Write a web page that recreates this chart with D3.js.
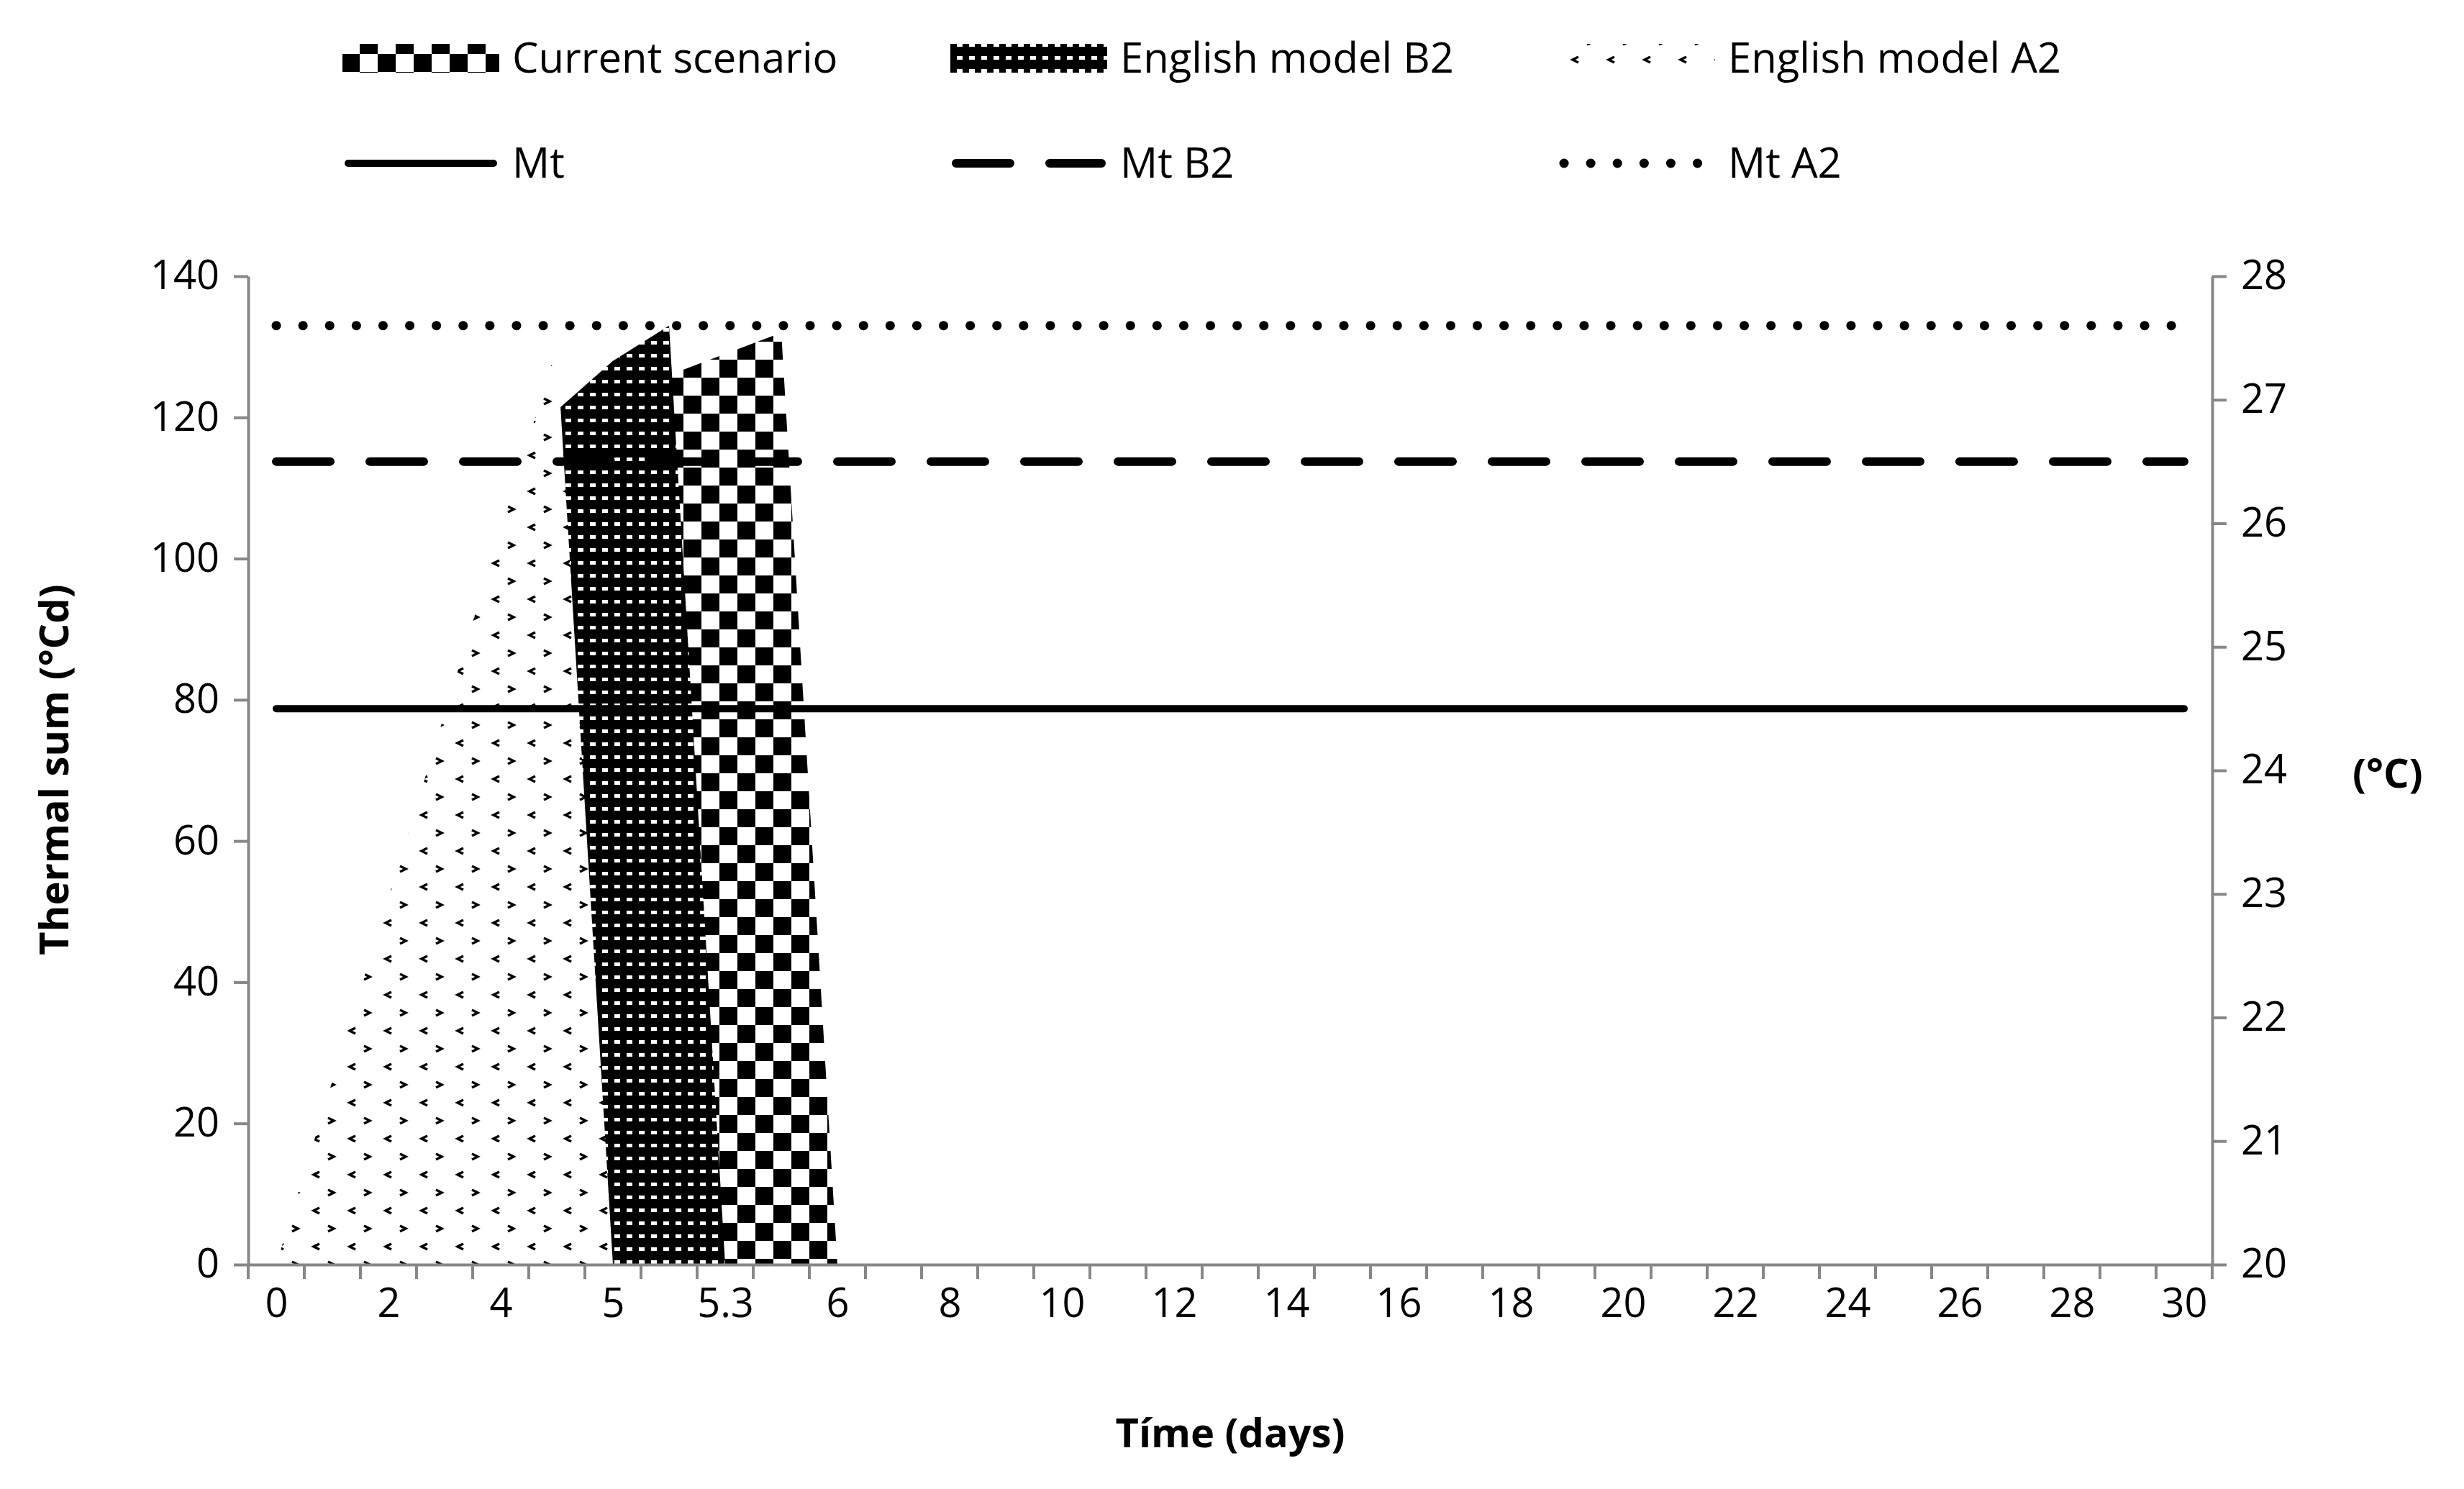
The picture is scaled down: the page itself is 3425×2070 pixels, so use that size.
<!DOCTYPE html>
<html><head><meta charset="utf-8">
<script src="https://cdn.jsdelivr.net/npm/d3@7"></script>
<style>body{margin:0;background:#fff}text{font-family:"Open Sans",sans-serif}</style>
</head><body>
<script>
// categories on the x axis (only every other one is labelled)
var categories = ["0","1","2","3","4","4.5","5","5.15","5.3","5.65","6","7","8","9","10","11","12","13","14","15","16","17","18","19","20","21","22","23","24","25","26","27","28","29","30"];
// thermal sum (°Cd), null = no value
var currentVals = [null,null,null,null,null,null,0,126,129,132,0];
var b2Vals      = [null,null,null,null,0,121,128,133,0];
var a2Vals      = [0,26,52,78,104,130,0];
// mean temperature (°C), right axis
var mt = 24.5, mtB2 = 26.5, mtA2 = 27.6;
var leftTicks = [0,20,40,60,80,100,120,140];
var rightTicks = [20,21,22,23,24,25,26,27,28];

var W = 3425, H = 2070;
var L = 345, R = 3075, T = 384, B = 1758;
var svg = d3.select("body").append("svg").attr("width",W).attr("height",H);
var defs = svg.append("defs");

// patterns
var p1 = defs.append("pattern").attr("id","chk").attr("patternUnits","userSpaceOnUse").attr("width",50).attr("height",50);
p1.append("rect").attr("width",50).attr("height",50).attr("fill","#fff");
p1.append("rect").attr("width",25).attr("height",25).attr("fill","#000");
p1.append("rect").attr("x",25).attr("y",25).attr("width",25).attr("height",25).attr("fill","#000");
var p2 = defs.append("pattern").attr("id","dns").attr("patternUnits","userSpaceOnUse").attr("width",17).attr("height",18);
p2.append("rect").attr("width",17).attr("height",18).attr("fill","#000");
p2.append("rect").attr("x",4).attr("y",6).attr("width",8).attr("height",5).attr("fill","#fff");
var p3 = defs.append("pattern").attr("id","spr").attr("patternUnits","userSpaceOnUse").attr("width",50).attr("height",50);
p3.append("rect").attr("width",50).attr("height",50).attr("fill","#fff");
p3.append("path").attr("d","M6 4 L14 8 L6 12 M44 29 L36 33 L44 37").attr("stroke","#000").attr("stroke-width",3.5).attr("fill","none");
p3.append("path").attr("d","M19 4 L11 8 L19 12 M31 29 L39 33 L31 37").attr("stroke","none").attr("fill","none");

var x = d3.scalePoint().domain(categories).range([L,R]).padding(0.5);
var band = (R-L)/categories.length;
var y = d3.scaleLinear().domain([0,140]).range([B,T]);
var y2 = d3.scaleLinear().domain([20,28]).range([B,T]);

function area(vals, fill){
  var pts = vals.map(function(v,i){return {c:categories[i],v:v};}).filter(function(d){return d.v!==null;});
  svg.append("path").datum(pts)
    .attr("d", d3.area().x(function(d){return x(d.c);}).y0(B).y1(function(d){return y(d.v);}))
    .attr("fill", fill);
}
area(currentVals,"url(#chk)");
area(b2Vals,"url(#dns)");
area(a2Vals,"url(#spr)");

// lines
var lineStyles = [[mt,null],[mtB2,"75 55"],[mtA2,"0.1 37"]];
var lineW = [10,12,13];
lineStyles.forEach(function(s,i){
  var pts = categories.map(function(c){return {c:c,v:s[0]};});
  svg.append("path").datum(pts)
    .attr("d", d3.line().x(function(d){return x(d.c);}).y(function(d){return y2(d.v);}))
    .attr("stroke","#000").attr("stroke-width",lineW[i]).attr("fill","none")
    .attr("stroke-linecap","round").attr("stroke-dasharray",s[1]);
});

// axes
var gray = "#878787";
var ax = svg.append("g").attr("transform","translate("+L+",0)")
  .call(d3.axisLeft(y).tickValues(leftTicks).tickSize(20).tickSizeOuter(0).tickFormat(d3.format("d")));
var ax2 = svg.append("g").attr("transform","translate("+R+",0)")
  .call(d3.axisRight(y2).tickValues(rightTicks).tickSize(20).tickSizeOuter(0));
var bx = svg.append("g").attr("transform","translate(0,"+B+")")
  .call(d3.axisBottom(x).tickSize(0).tickFormat(function(d,i){return i%2==0?d:"";}));
// category boundary ticks
svg.append("g").selectAll("line").data(d3.range(categories.length+1)).enter().append("line")
  .attr("x1",function(i){return L+i*band;}).attr("x2",function(i){return L+i*band;})
  .attr("y1",B).attr("y2",B+20).attr("stroke",gray).attr("stroke-width",4);
[ax,ax2,bx].forEach(function(g){
  g.selectAll("path,line").attr("stroke",gray).attr("stroke-width",4);
  g.selectAll("text").attr("font-size",56).attr("fill","#000");
});
ax.selectAll("text").attr("x",-40);
ax2.selectAll("text").attr("x",40);
bx.selectAll("text").attr("dy","1.25em");

// titles
svg.append("text").attr("x",1710).attr("y",2012).attr("text-anchor","middle")
  .attr("font-size",56).attr("font-weight","bold").text("Tíme (days)");
svg.append("text").attr("transform","translate(95,1070) rotate(-90)").attr("text-anchor","middle")
  .attr("font-size",56).attr("font-weight","bold").text("Thermal sum (°Cd)");
svg.append("text").attr("x",3270).attr("y",1095)
  .attr("font-size",56).attr("font-weight","bold").text("(°C)");

// legend
var legAreas = [["Current scenario","url(#chk)",476],["English model B2","url(#dns)",1321],["English model A2","url(#spr)",2166]];
legAreas.forEach(function(d){
  svg.append("rect").attr("x",d[2]).attr("y",61).attr("width",218).attr("height",40).attr("fill",d[1]);
  svg.append("text").attr("x",d[2]+236).attr("y",101).attr("font-size",58).text(d[0]);
});
var legLines = [["Mt",null,10,476],["Mt B2","75 55",12,1321],["Mt A2","0.1 37",13,2166]];
legLines.forEach(function(d){
  svg.append("line").attr("x1",d[3]+8).attr("x2",d[3]+210).attr("y1",227).attr("y2",227)
    .attr("stroke","#000").attr("stroke-width",d[2]).attr("stroke-linecap","round").attr("stroke-dasharray",d[1]);
  svg.append("text").attr("x",d[3]+236).attr("y",247).attr("font-size",58).text(d[0]);
});
</script>
</body></html>
